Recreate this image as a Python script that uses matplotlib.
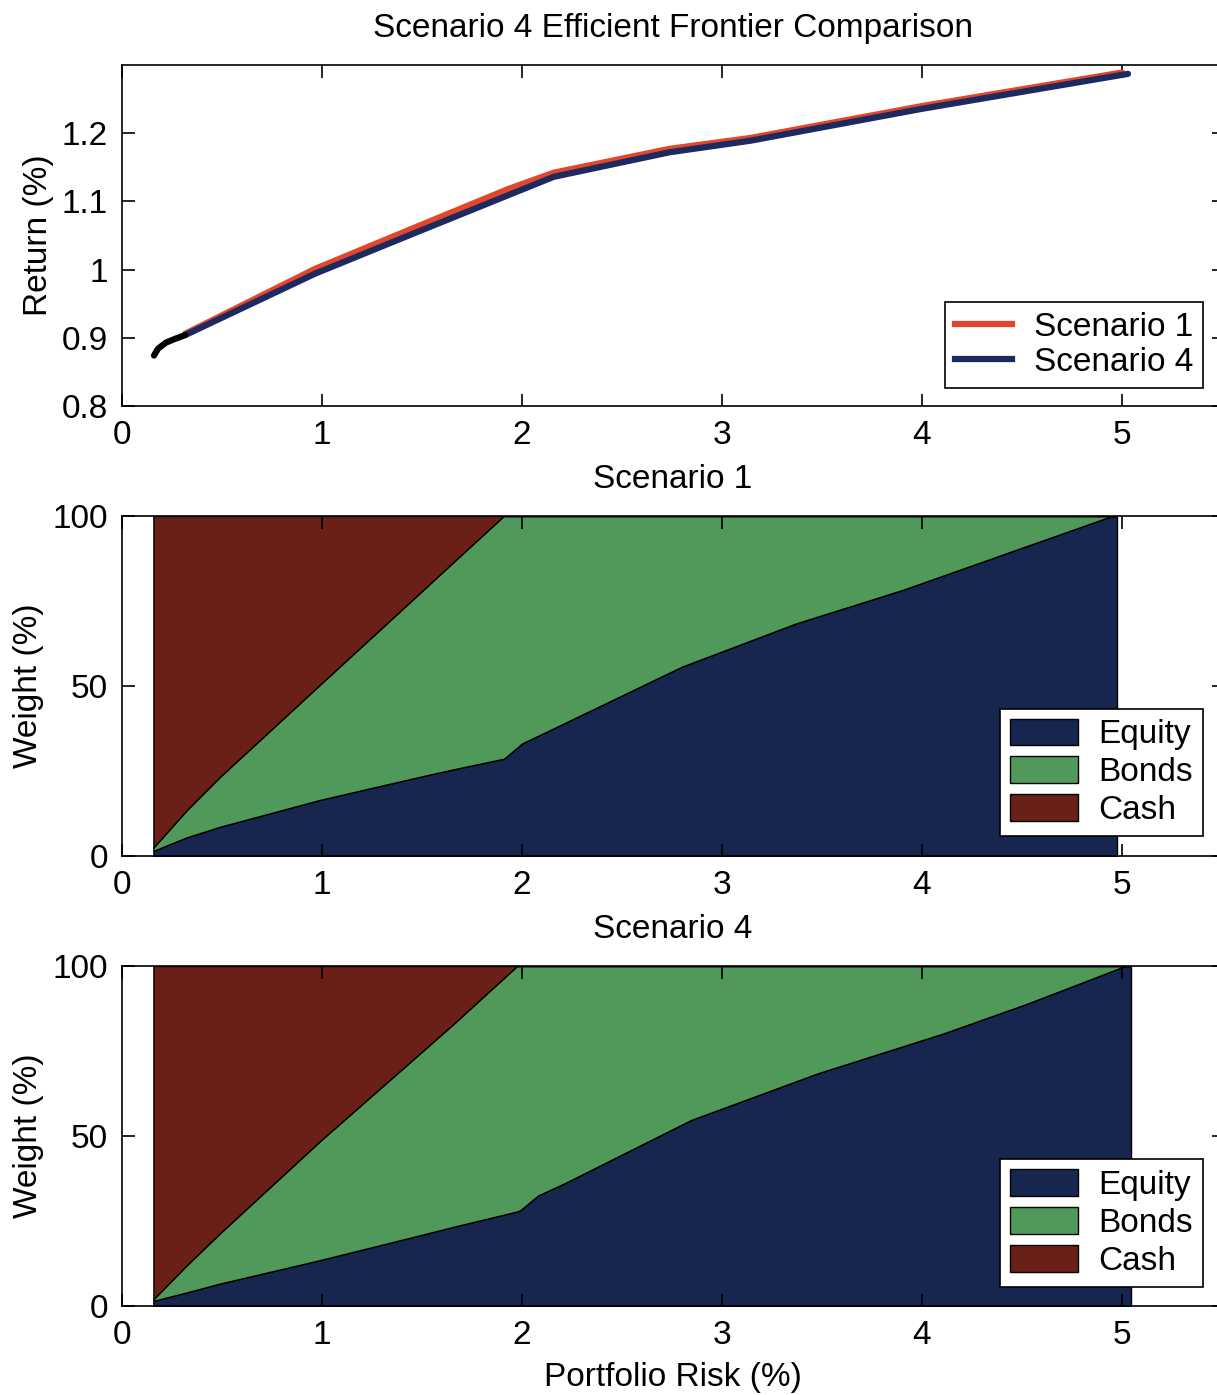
import matplotlib
matplotlib.use("Agg")
import matplotlib.pyplot as plt
from matplotlib.patches import Patch
from matplotlib.lines import Line2D

plt.rcParams["font.family"] = ["Liberation Sans", "DejaVu Sans"]

# frontier (top panel)
risk_s1 = [0.316, 0.965, 1.45, 1.93, 2.158, 2.737, 3.142, 4.004, 5.0]
ret_s1 = [0.906, 1.001, 1.060, 1.118, 1.142, 1.177, 1.193, 1.240, 1.289]
risk_s4 = [0.316, 0.965, 1.45, 1.93, 2.158, 2.737, 3.142, 4.004, 5.03]
ret_s4 = [0.904, 0.994, 1.052, 1.109, 1.136, 1.172, 1.189, 1.236, 1.287]
risk_low = [0.16, 0.18, 0.22, 0.27, 0.316]
ret_low = [0.874, 0.884, 0.893, 0.899, 0.904]

# weights, scenario 1
x1 = [0.157, 0.324, 0.49, 0.99, 1.49, 1.658, 1.908, 1.918, 2.0, 2.107,
      2.80, 3.37, 3.90, 4.42, 4.95, 4.975]
equity1 = [1.5, 5.5, 8.6, 16.5, 23.3, 25.5, 28.6, 29.0, 33.1, 36.1,
           55.7, 68.4, 78.2, 89.0, 100, 100]
bonds1 = [1.0, 8.0, 14.7, 33.9, 54.1, 61.0, 71.4, 71.0, 66.9, 63.9,
          44.3, 31.6, 21.8, 11.0, 0, 0]
cash1 = [97.5, 86.5, 76.7, 49.6, 22.6, 13.5, 0, 0, 0, 0,
         0, 0, 0, 0, 0, 0]

# weights, scenario 4
x4 = [0.157, 0.324, 0.49, 0.99, 1.49, 1.658, 1.975, 1.992, 2.08, 2.213,
      2.845, 3.477, 4.109, 4.53, 5.016, 5.045]
equity4 = [1.5, 4.0, 6.6, 13.5, 20.8, 23.3, 27.8, 28.2, 32.5, 36.1,
           54.7, 68.4, 80.2, 89.0, 100, 100]
bonds4 = [0.5, 8.0, 14.8, 35.0, 53.5, 59.7, 72.2, 71.8, 67.5, 63.9,
          45.3, 31.6, 19.8, 11.0, 0, 0]
cash4 = [98.0, 88.0, 78.6, 51.5, 25.7, 17.0, 0, 0, 0, 0,
         0, 0, 0, 0, 0, 0]

assets = ["Equity", "Bonds", "Cash"]
asset_colors = ["#16264f", "#51995a", "#6a2017"]
xticks = [0, 1, 2, 3, 4, 5]

FS = 24

fig = plt.figure(figsize=(12.17, 13.95), dpi=100)
W, H = 1217.0, 1395.0


def make_ax(top_px, bottom_px):
    left = 122 / W
    width = (1224 - 122) / W
    return fig.add_axes([left, 1 - bottom_px / H, width, (bottom_px - top_px) / H])


def style(ax):
    ax.set_xlim(0, 5.51)
    ax.set_xticks(xticks)
    ax.tick_params(direction="in", length=9, width=1.2, top=True, right=True,
                   labelsize=FS, pad=10)
    for s in ax.spines.values():
        s.set_linewidth(1.2)


ax0 = make_ax(65, 406)
ax0.plot(risk_s1, ret_s1, color="#e2472b", lw=4.5, solid_capstyle="round")
ax0.plot(risk_s4, ret_s4, color="#1d2a5f", lw=4.5, solid_capstyle="round")
ax0.plot(risk_low, ret_low, color="black", lw=4.5, solid_capstyle="round")
ax0.set_ylim(0.8, 1.3)
ax0.set_yticks([0.8, 0.9, 1.0, 1.1, 1.2])
ax0.set_yticklabels(["0.8", "0.9", "1", "1.1", "1.2"])
style(ax0)
ax0.set_ylabel("Return (%)", fontsize=FS, labelpad=6)
ax0.set_title("Scenario 4 Efficient Frontier Comparison", fontsize=FS, pad=20)
handles = [Line2D([], [], color="#e2472b", lw=4.5),
           Line2D([], [], color="#1d2a5f", lw=4.5)]
leg = ax0.legend(handles, ["Scenario 1", "Scenario 4"], loc="lower right",
                 bbox_to_anchor=(0.981, 0.0528), borderaxespad=0, fontsize=FS,
                 fancybox=False, framealpha=1, edgecolor="black",
                 handlelength=1.7, labelspacing=0.12, borderpad=0.3,
                 handletextpad=0.65)
leg.get_frame().set_linewidth(1.2)

panels = [(516, 856, x1, equity1, bonds1, cash1, "Scenario 1", 0.0588),
          (966, 1306, x4, equity4, bonds4, cash4, "Scenario 4", 0.056)]
for top_px, bot_px, xs, eq, bd, ch, name, leg_y in panels:
    ax = make_ax(top_px, bot_px)
    ax.stackplot(xs, eq, bd, ch, colors=asset_colors, edgecolor="black",
                 linewidth=1.0)
    ax.set_ylim(0, 100)
    ax.set_yticks([0, 50, 100])
    style(ax)
    ax.set_ylabel("Weight (%)", fontsize=FS, labelpad=6)
    ax.set_title(name, fontsize=FS, pad=20)
    patches = [Patch(facecolor=c, edgecolor="black", linewidth=1.0)
               for c in asset_colors]
    lg = ax.legend(patches, assets, loc="lower right",
                   bbox_to_anchor=(0.981, leg_y), borderaxespad=0,
                   fontsize=FS, fancybox=False, framealpha=1,
                   edgecolor="black", handlelength=2.05, handleheight=0.85,
                   labelspacing=0.18, borderpad=0.3, handletextpad=0.6)
    lg.get_frame().set_linewidth(1.2)

ax.set_xlabel("Portfolio Risk (%)", fontsize=FS, labelpad=8)

fig.savefig("out.png", dpi=100)
